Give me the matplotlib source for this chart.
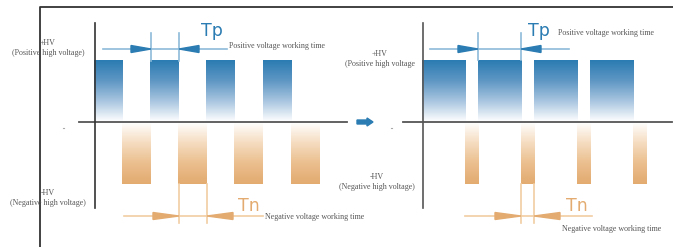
import matplotlib
matplotlib.use("Agg")
import matplotlib.pyplot as plt
import numpy as np
from matplotlib.patches import Polygon, FancyArrow
from matplotlib.colors import LinearSegmentedColormap

# pulse trains (x positions in drawing units, one unit = one pixel)
pos_left = [94, 150, 206, 263]
neg_left = [122, 178, 234, 291]
w_left = 29
pos_right = [422, 478, 534, 590]
neg_right = [465, 521, 577, 633]
w_pos_right = 44
w_neg_right = 14

zero = 122
hv_pos = 60
hv_neg = 184

blue = "#2b7cb2"
blue_light = "#8dbbd9"
orange = "#e3ab70"
orange_light = "#f2cda3"
grey = "#555555"

fig = plt.figure(figsize=(6.73, 2.47), dpi=100)
ax = fig.add_axes([0, 0, 1, 1])
ax.set_xlim(0, 673)
ax.set_ylim(247, 0)
ax.axis("off")

blue_cmap = LinearSegmentedColormap.from_list("b", ["#ffffff", "#a9c6e0", "#5f97c4", blue])
orange_cmap = LinearSegmentedColormap.from_list("o", ["#ffffff", "#f5dcc0", "#ebbf8e", orange])
grad = np.linspace(0, 1, 100).reshape(-1, 1)


def pulses(starts, width, top, cmap):
    for x0 in starts:
        # value 1 at the high-voltage end, 0 at the zero line
        ax.imshow(grad, cmap=cmap, aspect="auto", origin="lower",
                  extent=(x0, x0 + width, zero, top), zorder=1)


pulses(pos_left, w_left, hv_pos, blue_cmap)
pulses(neg_left, w_left, hv_neg, orange_cmap)
pulses(pos_right, w_pos_right, hv_pos, blue_cmap)
pulses(neg_right, w_neg_right, hv_neg, orange_cmap)

# frame lines
ax.plot([40, 40, 673], [247, 7, 7], color="#333333", lw=1.3, zorder=3)
# axes of both panels
ax.plot([79, 347], [zero, zero], color=grey, lw=1.3, zorder=3)
ax.plot([403, 672], [zero, zero], color=grey, lw=1.3, zorder=3)
ax.plot([95, 95], [23, 208], color="#333333", lw=1.2, zorder=3)
ax.plot([423, 423], [23, 208], color=grey, lw=1.2, zorder=3)
ax.plot([63, 64], [128, 128], color="#aaaaaa", lw=0.8)
ax.plot([391, 392], [128, 128], color="#aaaaaa", lw=0.8)

ax.add_patch(FancyArrow(357, zero, 10, 0, width=4, head_width=8,
                        head_length=6, color=blue, zorder=4))


def dimension(xa, xb, y, y0, y1, left_start, right_end, col, tri_col, tri_len):
    ax.plot([xa, xa], [y0, y1], color=col, lw=1.2, zorder=4)
    ax.plot([xb, xb], [y0, y1], color=col, lw=1.2, zorder=4)
    ax.plot([xa, xb], [y, y], color=col, lw=1.2, zorder=4)
    ax.plot([left_start, xa - tri_len], [y, y], color=col, lw=1.2, zorder=4)
    ax.plot([xb + tri_len, right_end], [y, y], color=col, lw=1.2, zorder=4)
    ax.add_patch(Polygon([[xa - tri_len, y - 3.5], [xa, y], [xa - tri_len, y + 3.5]],
                         color=tri_col, zorder=5))
    ax.add_patch(Polygon([[xb + tri_len, y - 3.5], [xb, y], [xb + tri_len, y + 3.5]],
                         color=tri_col, zorder=5))


dimension(151, 179, 49, 33, 61, 103, 227, blue_light, blue, 20)
dimension(179, 207, 216, 184, 223, 124, 263, orange_light, orange, 26)
dimension(478, 521, 49, 33, 60, 430, 569, blue_light, blue, 20)
dimension(521, 534, 216, 184, 223, 465, 592, orange_light, orange, 26)

big = dict(family="DejaVu Sans", fontweight="normal", fontsize=12.5, va="center", ha="left")
ax.text(201, 31, "Tp", color=blue, **big)
ax.text(238, 206, "Tn", color=orange, **big)
ax.text(528, 31, "Tp", color=blue, **big)
ax.text(566, 206, "Tn", color=orange, **big)

small = dict(family="Liberation Serif", fontsize=5.8, color=grey, va="center")
ax.text(229, 46, "Positive voltage working time", ha="left", **small)
ax.text(265, 217, "Negative voltage working time", ha="left", **small)
ax.text(558, 33, "Positive voltage working time", ha="left", **small)
ax.text(562, 229, "Negative voltage working time", ha="left", **small)

ax.text(48, 48, "+HV\n(Positive high voltage)", ha="center", linespacing=1.2, **small)
ax.text(48, 198, "-HV\n(Negative high voltage)", ha="center", linespacing=1.2, **small)
ax.text(380, 59, "+HV\n(Positive high voltage", ha="center", linespacing=1.2, **small)
ax.text(377, 182, "-HV\n(Negative high voltage)", ha="center", linespacing=1.2, **small)

fig.savefig("out.png", dpi=100)
